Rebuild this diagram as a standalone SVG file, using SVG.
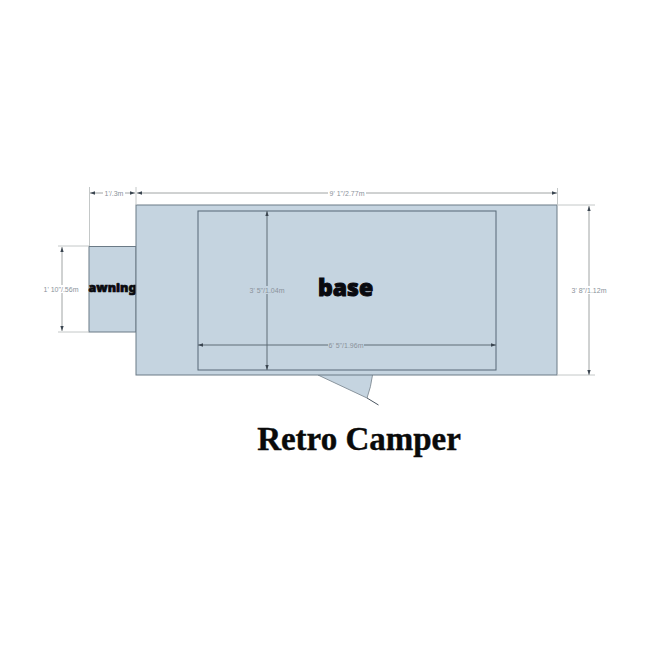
<svg xmlns="http://www.w3.org/2000/svg" width="650" height="650" viewBox="0 0 650 650">
<defs>
<marker id="a" viewBox="0 0 6 6" refX="6" refY="3" markerWidth="5" markerHeight="5" orient="auto-start-reverse"><path d="M0 1L6 3L0 5Z" fill="#3a4550"/></marker>
</defs>
<style>
.s{fill:#c5d4e0;stroke:#6b7a86;stroke-width:1}
.in{fill:none;stroke:#566776;stroke-width:1}
.d{stroke:#a0a4a4;stroke-width:1;fill:none;marker-start:url(#a);marker-end:url(#a)}
.dk{stroke:#5f6c77;stroke-width:1;fill:none;marker-start:url(#a);marker-end:url(#a)}
.e{stroke:#c4c8c8;stroke-width:1;fill:none}
.t{font-family:"Liberation Sans",Arial,sans-serif;font-size:7px;fill:#8a929a;text-anchor:middle}
.b{font-family:"Noto Sans","DejaVu Sans",sans-serif;font-weight:900;fill:#0a0a0f;text-anchor:middle;stroke:#0a0a0f}
</style>
<rect width="650" height="650" fill="#fff"/>
<g id="door"><path d="M318 375H372.500Q371 387 367 398Z" fill="#c5d4e0"/><path d="M372.500 375Q371 387 367 398" fill="none" stroke="#8a959e" stroke-width="1"/><path d="M318 375L367 398" fill="none" stroke="#8a959e" stroke-width="1"/><path d="M367 398L378.500 405" fill="none" stroke="#4a5560" stroke-width="1"/></g>
<g id="awning"><rect class="s" x="89" y="246.500" width="47" height="85.500"/><text class="b" x="112.500" y="292" font-size="12.500" stroke-width=".7">awning</text></g>
<g id="base"><rect class="s" x="136" y="205" width="421" height="170"/><rect class="in" x="198" y="211" width="298" height="159"/><text class="b" x="345.500" y="296" font-size="23" stroke-width="1">base</text></g>
<g id="connectors">
<path class="e" d="M89.500 187V246M136 187V205M557.500 188V205M557 205H595M557 375H595M89 246H58M89 332H58"/>
<path class="d" d="M90 193H135"/>
<path class="d" d="M137 193H557"/>
<path class="d" d="M62 247V331"/>
<path class="d" d="M589 206V375"/>
<path class="dk" d="M267 211V370"/>
<path class="dk" d="M198 345H496"/>
</g>
<g id="labels">
<rect x="103" y="189" width="22" height="8" fill="#fff"/><text class="t" x="114" y="195.500">1'/.3m</text>
<rect x="328" y="189" width="38" height="8" fill="#fff"/><text class="t" x="347" y="195.500">9' 1"/2.77m</text>
<rect x="44" y="285" width="36" height="8" fill="#fff"/><text class="t" x="61" y="291.500">1' 10"/.56m</text>
<rect x="571" y="286" width="36" height="8" fill="#fff"/><text class="t" x="589" y="292.500">3' 8"/1.12m</text>
<rect x="250" y="286" width="34" height="8" fill="#c5d4e0"/><text class="t" x="267" y="292.500">3' 5"/1.04m</text>
<rect x="328" y="341" width="36" height="8" fill="#c5d4e0"/><text class="t" x="346" y="347.500">6' 5"/1.96m</text>
</g>
<text id="title" x="359" y="450" font-family="'Liberation Serif','Times New Roman',serif" font-weight="700" font-size="33" fill="#0a0a0a" text-anchor="middle" stroke="#0a0a0a" stroke-width=".4">Retro Camper</text>
</svg>
